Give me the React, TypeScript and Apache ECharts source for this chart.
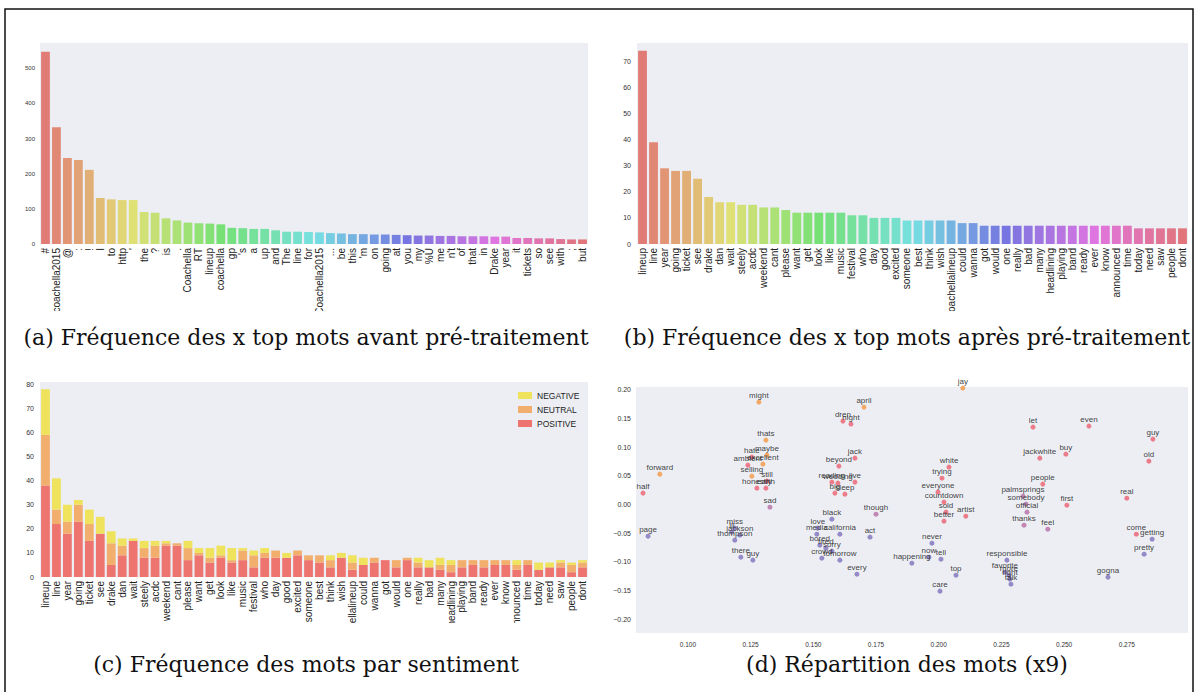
import React, { useEffect, useRef } from "react";
import * as echarts from "echarts";

// (a) top words before preprocessing
const wordsA = ["#", "coachella2015", "@", ":", "!", "I", "to", "http", "'", "the", "?", "is", ".", "Coachella", "RT", "lineup", "coachella", "gp", "'s", "a", "up", "and", "The", "line", "for", "Coachella2015", "...", "be", "this", "'m", "on", "going", "at", "you", "my", "%Ù", "me", "n't", "of", "that", "in", "Drake", "year", "it", "tickets", "so", "see", "with", ";", "but"];
const countsA = [547, 332, 245, 239, 211, 131, 127, 125, 125, 91, 89, 73, 67, 61, 59, 58, 56, 46, 45, 43, 43, 39, 35, 35, 34, 33, 31, 30, 28, 28, 27, 27, 26, 25, 24, 24, 23, 23, 22, 22, 22, 21, 21, 17, 17, 16, 16, 14, 13, 13];

// (b) top words after preprocessing
const wordsB = ["lineup", "line", "year", "going", "ticket", "see", "drake", "dan", "wait", "steely", "acdc", "weekend", "cant", "please", "want", "get", "look", "like", "music", "festival", "who", "day", "good", "excited", "someone", "best", "think", "wish", "coachellalineup", "could", "wanna", "got", "would", "one", "really", "bad", "many", "headlining", "playing", "band", "ready", "ever", "know", "announced", "time", "today", "need", "saw", "people", "dont"];
const countsB = [74, 39, 29, 28, 28, 25, 18, 16, 16, 15, 15, 14, 14, 13, 12, 12, 12, 12, 12, 11, 11, 10, 10, 10, 9, 9, 9, 9, 9, 8, 8, 7, 7, 7, 7, 7, 7, 7, 7, 7, 7, 7, 7, 7, 7, 6, 6, 6, 6, 6];

// (c) words by sentiment
const wordsC = wordsB;
const positive = [38, 22, 18, 23, 15, 18, 5, 9, 15, 8, 8, 13, 13, 7, 9, 6, 8, 6, 7, 4, 8, 8, 8, 9, 7, 6, 4, 8, 3, 5, 6, 7, 4, 7, 4, 4, 3, 2, 4, 5, 4, 5, 5, 3, 5, 3, 4, 4, 2, 4];
const neutral = [21, 6, 5, 7, 7, 0, 9, 4, 0, 4, 5, 1, 1, 5, 1, 2, 1, 1, 4, 5, 2, 3, 0, 2, 2, 3, 3, 0, 3, 0, 2, 0, 3, 1, 2, 0, 2, 3, 3, 2, 3, 2, 2, 2, 2, 0, 0, 2, 3, 2];
const negative = [19, 13, 7, 2, 6, 7, 5, 3, 1, 3, 2, 1, 0, 3, 2, 4, 4, 5, 1, 2, 2, 0, 2, 0, 0, 0, 2, 2, 3, 3, 0, 0, 0, 0, 2, 3, 3, 2, 0, 0, 0, 0, 0, 2, 0, 3, 2, 1, 1, 1];

// tick labels
const ticksA = [0, 100, 200, 300, 400, 500];
const ticksB = [0, 10, 20, 30, 40, 50, 60, 70];
const ticksC = [0, 10, 20, 30, 40, 50, 60, 70, 80];
const ticksDX = [0.1, 0.125, 0.15, 0.175, 0.2, 0.225, 0.25, 0.275];
const ticksDY = [-0.2, -0.15, -0.1, -0.05, 0, 0.05, 0.1, 0.15, 0.2];

// (d) word map
const mapWords = ["might", "april", "dren", "night", "thats", "maybe", "hate", "ambient", "excellent", "selling", "still", "honestly", "earth", "sad", "forward", "half", "page", "miss", "lil", "jackson", "thompson", "there", "guy", "jack", "beyond", "reading", "wedding", "live", "big", "sleep", "though", "black", "love", "media", "california", "act", "bored", "tired", "sorry", "crowd", "tomorrow", "every", "jay", "let", "even", "guy", "old", "jackwhite", "buy", "white", "trying", "people", "everyone", "palmsprings", "real", "countdown", "somebody", "first", "sold", "artist", "official", "better", "thanks", "feel", "come", "getting", "pretty", "never", "now", "tell", "happening", "responsible", "gogna", "top", "favorite", "more", "right", "talk", "care"];
const mapX = [0.1283, 0.1702, 0.1618, 0.165, 0.1311, 0.1315, 0.1255, 0.1239, 0.1299, 0.1255, 0.1315, 0.1275, 0.1311, 0.1327, 0.0888, 0.0821, 0.0841, 0.1187, 0.1175, 0.1207, 0.1187, 0.1211, 0.1259, 0.1666, 0.1602, 0.1574, 0.1598, 0.1666, 0.1586, 0.1626, 0.175, 0.1574, 0.1518, 0.1514, 0.1606, 0.1726, 0.1526, 0.155, 0.1574, 0.1534, 0.1606, 0.1674, 0.2096, 0.2376, 0.2599, 0.2854, 0.2838, 0.2403, 0.2507, 0.2041, 0.2013, 0.2415, 0.1997, 0.2336, 0.275, 0.2021, 0.2348, 0.2511, 0.2029, 0.2108, 0.2352, 0.2021, 0.234, 0.2435, 0.2788, 0.2851, 0.2819, 0.1973, 0.1961, 0.2009, 0.1893, 0.2272, 0.2675, 0.2069, 0.2264, 0.228, 0.2284, 0.2288, 0.2005];
const mapY = [0.1789, 0.1701, 0.1457, 0.1405, 0.1126, 0.0864, 0.0829, 0.0689, 0.0707, 0.0497, 0.041, 0.0288, 0.0288, -0.0044, 0.0532, 0.0201, -0.055, -0.041, -0.048, -0.0532, -0.0619, -0.0916, -0.0968, 0.0811, 0.0672, 0.0393, 0.0375, 0.0393, 0.0201, 0.0183, -0.0166, -0.0253, -0.041, -0.0515, -0.0515, -0.0567, -0.0707, -0.0759, -0.0811, -0.0934, -0.0968, -0.1213, 0.2033, 0.1352, 0.137, 0.1143, 0.0759, 0.0811, 0.0881, 0.0654, 0.0462, 0.0358, 0.0218, 0.0148, 0.0113, 0.0044, 0.0009, -0.0009, -0.0131, -0.0201, -0.0131, -0.0288, -0.0358, -0.0428, -0.0515, -0.0602, -0.0864, -0.0672, -0.0916, -0.0951, -0.1021, -0.0968, -0.1265, -0.123, -0.1178, -0.123, -0.13, -0.1387, -0.1509];
const mapTone = ["o", "o", "r", "r", "o", "o", "r", "r", "o", "o", "r", "r", "r", "m", "o", "r", "p", "p", "p", "p", "p", "p", "p", "r", "r", "r", "r", "r", "r", "r", "m", "p", "p", "p", "p", "p", "p", "p", "p", "p", "p", "p", "o", "r", "r", "r", "r", "r", "r", "r", "r", "r", "r", "m", "r", "r", "m", "r", "r", "r", "m", "r", "m", "m", "r", "p", "p", "p", "p", "p", "p", "p", "p", "p", "p", "p", "p", "p", "p"];

const toneColors: Record<string, string> = { o: "#f3a35e", r: "#ec7584", m: "#c07fb0", p: "#8f84c4" };

function hlsPalette(n: number): string[] {
  const out: string[] = [];
  for (let i = 0; i < n; i++) {
    const h = ((0.01 + i / n) % 1) * 360;
    out.push(`hsl(${h.toFixed(1)}, 64%, 67%)`);
  }
  return out;
}

const SANS = "Liberation Sans, Arial, sans-serif";
const SERIF = "'DejaVu Serif', 'Liberation Serif', serif";
const PLOT_BG = "#eceef3";

export default function App() {
  const ref = useRef<HTMLDivElement>(null);
  useEffect(() => {
    if (!ref.current) return;
    const chart = echarts.init(ref.current, undefined, { renderer: "svg" });
    const palA = hlsPalette(wordsA.length);
    const palB = hlsPalette(wordsB.length);
    const catAxis = (gridIndex: number, data: string[]) => ({
      gridIndex,
      type: "category",
      data,
      axisLine: { show: false },
      axisTick: { show: false },
      splitLine: { show: false },
      axisLabel: { interval: 0, rotate: 90, fontSize: 10, color: "#222", margin: 4, fontFamily: SANS },
    });
    const valAxis = (gridIndex: number, max: number, ticks: number[], fontSize: number, margin: number) => ({
      gridIndex,
      type: "value",
      min: 0,
      max,
      axisLine: { show: false },
      axisTick: { show: false },
      splitLine: { show: false },
      axisLabel: { customValues: ticks, fontSize, color: "#333", margin, fontFamily: SANS },
    });
    const fmtY = (v: number) => (v < -1e-9 ? "\u2212" : "") + Math.abs(v).toFixed(2);
    const capStyle = (text: string) => ({ text, font: `22px ${SERIF}`, fill: "#111", align: "center", verticalAlign: "middle" });
    const option: any = {
      animation: false,
      backgroundColor: "#ffffff",
      grid: [
        { left: 40, top: 43, width: 548, height: 201 },
        { left: 637, top: 43, width: 551, height: 201 },
        { left: 40, top: 382, width: 548, height: 195 },
        { left: 636, top: 387, width: 552, height: 246 },
      ].map((g) => ({ ...g, show: true, backgroundColor: PLOT_BG, borderWidth: 0, containLabel: false })),
      xAxis: [
        catAxis(0, wordsA),
        catAxis(1, wordsB),
        catAxis(2, wordsC),
        {
          gridIndex: 3,
          type: "value",
          min: 0.0793,
          max: 0.2994,
          axisLine: { show: false },
          axisTick: { show: false },
          splitLine: { show: false },
          axisLabel: { customValues: ticksDX, formatter: (v: number) => v.toFixed(3), fontSize: 6.5, color: "#333", margin: 8, fontFamily: SANS },
        },
      ],
      yAxis: [
        valAxis(0, 572, ticksA, 6, 5),
        valAxis(1, 77, ticksB, 7, 6),
        valAxis(2, 81, ticksC, 7, 6),
        {
          gridIndex: 3,
          type: "value",
          min: -0.2239,
          max: 0.2052,
          axisLine: { show: false },
          axisTick: { show: false },
          splitLine: { show: false },
          axisLabel: { customValues: ticksDY, formatter: fmtY, fontSize: 7, color: "#333", margin: 5, fontFamily: SANS },
        },
      ],
      legend: {
        orient: "vertical",
        left: 513,
        top: 386,
        itemWidth: 14,
        itemHeight: 7,
        itemGap: 5,
        icon: "rect",
        data: ["NEGATIVE", "NEUTRAL", "POSITIVE"],
        textStyle: { fontSize: 8.5, color: "#222", fontFamily: SANS },
      },
      series: [
        {
          type: "bar",
          xAxisIndex: 0,
          yAxisIndex: 0,
          barWidth: "80%",
          data: countsA.map((v, i) => ({ value: v, itemStyle: { color: palA[i] } })),
        },
        {
          type: "bar",
          xAxisIndex: 1,
          yAxisIndex: 1,
          barWidth: "80%",
          data: countsB.map((v, i) => ({ value: v, itemStyle: { color: palB[i] } })),
        },
        { name: "POSITIVE", type: "bar", stack: "s", xAxisIndex: 2, yAxisIndex: 2, barWidth: "80%", itemStyle: { color: "#ee7470" }, data: positive },
        { name: "NEUTRAL", type: "bar", stack: "s", xAxisIndex: 2, yAxisIndex: 2, barWidth: "80%", itemStyle: { color: "#f2ae6c" }, data: neutral },
        { name: "NEGATIVE", type: "bar", stack: "s", xAxisIndex: 2, yAxisIndex: 2, barWidth: "80%", itemStyle: { color: "#efe25c" }, data: negative },
        {
          type: "scatter",
          xAxisIndex: 3,
          yAxisIndex: 3,
          symbolSize: 5,
          data: mapWords.map((w, i) => ({
            name: w,
            value: [mapX[i], mapY[i]],
            itemStyle: { color: toneColors[mapTone[i]], opacity: 0.95 },
          })),
          label: { show: true, formatter: "{b}", position: "top", distance: 0, fontSize: 8, color: "#333", fontFamily: SANS },
        },
      ],
      graphic: [
        { type: "rect", z: 100, shape: { x: 8, y: 311, width: 1182, height: 11 }, style: { fill: "#ffffff" } },
        { type: "rect", z: 100, shape: { x: 8, y: 623, width: 600, height: 30 }, style: { fill: "#ffffff" } },
        { type: "text", z: 101, x: 306, y: 337, style: capStyle("(a) Fréquence des x top mots avant pré-traitement") },
        { type: "text", z: 101, x: 907, y: 337, style: capStyle("(b) Fréquence des x top mots après pré-traitement") },
        { type: "text", z: 101, x: 306, y: 664, style: capStyle("(c) Fréquence des mots par sentiment") },
        { type: "text", z: 101, x: 907, y: 664, style: capStyle("(d) Répartition des mots (x9)") },
        { type: "rect", z: 102, shape: { x: 5, y: 9, width: 1188, height: 700 }, style: { fill: "none", stroke: "#111", lineWidth: 1.5 } },
      ],
    };
    chart.setOption(option);
    return () => chart.dispose();
  }, []);
  return <div ref={ref} style={{ position: "fixed", left: 0, top: 0, width: 1198, height: 692 }} />;
}
